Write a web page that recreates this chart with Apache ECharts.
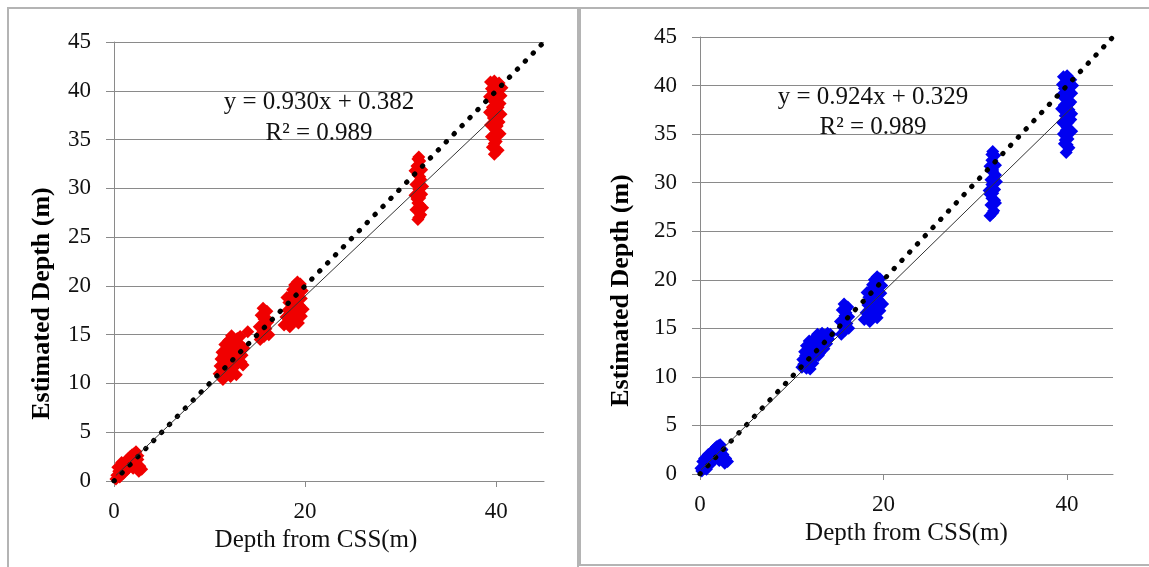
<!DOCTYPE html>
<html>
<head>
<meta charset="utf-8">
<script src="https://cdn.jsdelivr.net/npm/echarts@6/dist/echarts.min.js"></script>
<style>
html, body { margin: 0; padding: 0; background: #fff; overflow: hidden; }
.panel { position: absolute; border: 2px solid #b4b4b4; box-sizing: border-box; }
#panelLeft { left: 7px; top: 7px; width: 572px; height: 600px; }
#panelRight { left: 579px; top: 7px; width: 600px; height: 559px; }
#chart { position: absolute; left: 0; top: 0; width: 1149px; height: 567px; }
</style>
</head>
<body>
<div class="panel" id="panelLeft"></div>
<div class="panel" id="panelRight"></div>
<div id="chart"></div>
<script>
// x axis tick labels (both panels)
var xTickValues = [0, 20, 40]

// 1:1 reference line (dotted)
var oneToOne = [[0, 0], [45, 45]]

// fitted lines, end points
var redFit = [[0.2, 0.57], [40.6, 38.1]]
var blueFit = [[0.1, 0.42], [40.6, 37.8]]

var redEquation = ['y = 0.930x + 0.382', 'R² = 0.989']
var blueEquation = ['y = 0.924x + 0.329', 'R² = 0.989']

// left panel points (red)
var redPoints = [
  [0.3, 0.6], [0.5, 1.0], [0.4, 1.4], [0.7, 1.2], [0.9, 1.6], [1.1, 1.9], [1.3, 2.1], [1.5, 2.3],
  [1.7, 2.5], [1.9, 2.7], [2.1, 2.8], [2.3, 3.0], [2.5, 2.6], [0.6, 0.4], [1.0, 0.8], [1.3, 1.1],
  [1.6, 1.4], [1.9, 1.7], [2.2, 2.0], [2.5, 2.2], [2.7, 1.5], [2.9, 1.2], [2.6, 1.0], [0.2, 0.2],
  [0.8, 1.9], [2.0, 1.3], [1.2, 1.4], [1.8, 2.0], [0.9, 1.0], [2.2, 2.4],
  [11.0, 11.0], [11.1, 11.8], [11.2, 12.5], [11.3, 13.2], [11.5, 10.7], [11.6, 11.5], [11.7, 12.2],
  [11.9, 13.0], [12.0, 13.8], [12.1, 11.2], [12.2, 12.0], [12.4, 12.8], [12.5, 13.6], [12.6, 14.3],
  [12.7, 11.8], [12.9, 12.5], [13.0, 13.3], [13.1, 14.1], [13.2, 14.8], [12.3, 14.9], [13.4, 12.9],
  [13.6, 13.6], [13.5, 11.9], [11.4, 10.4], [12.8, 10.9], [14.0, 15.3],
  [11.4, 11.4], [11.8, 12.6], [12.3, 13.2], [12.8, 13.9], [12.6, 12.4], [13.2, 13.9], [12.0, 14.4],
  [11.6, 14.0], [13.3, 12.2], [12.2, 10.7], [11.5, 12.9], [12.9, 14.6],
  [15.3, 14.5], [15.5, 15.2], [15.6, 16.0], [15.8, 16.8], [16.0, 17.4], [15.7, 14.8], [15.9, 15.6],
  [16.1, 16.3], [15.4, 17.0], [15.6, 17.7], [16.2, 15.0], [15.2, 15.8], [15.8, 15.9], [15.7, 16.6],
  [17.8, 16.0], [18.0, 16.8], [18.2, 17.5], [18.3, 18.3], [18.5, 19.0], [18.7, 19.6], [18.9, 20.1],
  [19.2, 20.4], [19.5, 20.2], [19.7, 19.5], [19.6, 18.7], [19.4, 18.0], [19.2, 17.3], [19.0, 16.6],
  [18.6, 16.2], [18.4, 15.8], [18.8, 17.9], [19.1, 19.0], [19.8, 17.6], [18.1, 18.8],
  [18.6, 17.1], [19.0, 18.4], [19.4, 19.4], [18.3, 17.0], [19.6, 16.9], [18.6, 18.5], [19.3, 16.2],
  [31.8, 26.8], [32.1, 27.3], [31.6, 27.8], [32.0, 28.3], [31.7, 28.9], [32.2, 29.4], [31.9, 29.9],
  [31.6, 30.4], [32.1, 30.9], [31.8, 31.4], [32.2, 31.9], [31.7, 32.3], [32.0, 32.8], [31.9, 33.2],
  [32.3, 28.0], [31.5, 29.3], [32.3, 30.2], [31.5, 31.8],
  [31.9, 27.0], [32.0, 29.0], [31.9, 30.6], [32.0, 32.0], [31.8, 33.0], [31.8, 28.5], [32.0, 31.2],
  [39.4, 40.9], [39.8, 41.0], [40.3, 40.8], [40.6, 40.3], [39.5, 40.2], [40.0, 39.8], [40.5, 39.5],
  [39.3, 39.4], [39.8, 38.9], [40.4, 38.7], [39.6, 38.3], [40.1, 37.9], [39.7, 37.2], [40.3, 36.8],
  [39.4, 36.5], [39.9, 36.0], [40.4, 35.6], [39.5, 35.3], [40.0, 34.8], [39.6, 34.2], [40.2, 33.9],
  [39.8, 33.5], [40.5, 37.6], [39.3, 37.8],
  [40.0, 40.5], [39.9, 39.2], [40.0, 37.5], [39.9, 35.5], [40.0, 34.0], [40.2, 40.2], [39.7, 38.1],
  [40.1, 36.4], [39.7, 39.9], [40.2, 38.3], [39.8, 34.6]
]

// right panel points (blue)
var bluePoints = [
  [0.2, 0.3], [0.4, 0.8], [0.3, 1.3], [0.6, 1.1], [0.8, 1.5], [1.0, 1.9], [1.2, 2.1], [1.4, 2.4],
  [1.6, 2.6], [1.8, 2.8], [2.0, 2.9], [2.2, 3.0], [2.4, 2.5], [0.7, 0.5], [1.0, 0.9], [1.3, 1.2],
  [1.6, 1.5], [1.9, 1.8], [2.2, 2.1], [2.5, 2.0], [2.8, 1.6], [3.0, 1.3], [2.7, 1.1], [0.1, 0.6],
  [0.9, 2.0], [2.1, 1.4], [1.1, 1.3], [1.7, 2.0], [0.5, 1.6], [2.3, 2.6],
  [11.1, 11.0], [11.2, 11.8], [11.4, 12.6], [11.6, 13.2], [11.6, 10.9], [11.8, 11.6], [12.0, 12.3],
  [12.2, 13.0], [12.4, 13.7], [12.3, 11.4], [12.5, 12.1], [12.7, 12.9], [12.9, 13.6], [13.1, 14.2],
  [13.0, 12.4], [13.2, 13.0], [13.4, 13.7], [13.6, 14.3], [13.9, 14.5], [14.2, 14.4], [13.8, 13.4],
  [12.8, 14.4], [12.0, 10.8], [14.0, 13.9],
  [11.5, 12.2], [12.0, 12.9], [12.5, 13.3], [12.9, 12.2], [13.3, 14.5], [12.2, 11.8], [13.5, 12.9],
  [11.9, 13.7], [12.6, 14.1], [11.3, 11.3],
  [15.4, 14.4], [15.6, 15.1], [15.7, 15.9], [15.9, 16.6], [16.1, 17.2], [15.8, 14.8], [16.0, 15.5],
  [16.2, 16.2], [15.5, 16.9], [15.7, 17.5], [16.2, 15.0], [15.3, 15.7], [15.8, 16.3], [15.9, 17.0],
  [17.9, 15.9], [18.1, 16.6], [18.3, 17.4], [18.4, 18.2], [18.6, 18.9], [18.8, 19.5], [19.0, 20.0],
  [19.3, 20.3], [19.6, 20.1], [19.8, 19.4], [19.7, 18.6], [19.5, 17.9], [19.3, 17.2], [19.1, 16.5],
  [18.7, 16.1], [18.5, 15.7], [18.9, 17.8], [19.2, 18.9], [19.9, 17.5], [18.2, 18.7],
  [18.7, 17.1], [19.0, 18.3], [19.4, 19.3], [18.4, 16.9], [19.6, 16.8], [18.7, 18.4], [19.3, 16.1],
  [31.6, 26.6], [32.0, 27.1], [31.7, 27.7], [32.1, 28.2], [31.6, 28.8], [32.1, 29.3], [31.8, 29.8],
  [31.7, 30.3], [32.2, 30.8], [31.9, 31.3], [32.2, 31.8], [31.8, 32.3], [32.1, 32.8], [31.9, 33.2],
  [32.2, 27.9], [31.5, 29.2], [32.3, 30.1], [31.6, 31.7],
  [31.9, 26.9], [31.9, 28.9], [32.0, 30.5], [32.0, 31.9], [31.8, 32.9], [31.8, 28.4], [31.9, 31.1],
  [39.6, 40.9], [40.0, 41.0], [40.4, 40.6], [40.6, 40.0], [39.5, 40.1], [40.1, 39.6], [40.5, 39.2],
  [39.4, 39.0], [39.9, 38.6], [40.4, 38.3], [39.7, 37.9], [40.2, 37.5], [39.8, 36.9], [40.4, 36.5],
  [39.5, 36.2], [40.0, 35.7], [40.5, 35.3], [39.6, 35.0], [40.1, 34.5], [39.7, 34.0], [40.2, 33.6],
  [39.9, 33.1], [40.5, 37.1], [39.4, 37.6],
  [40.1, 40.3], [39.9, 39.1], [40.0, 37.3], [39.9, 35.4], [40.0, 33.9], [40.3, 39.9], [39.7, 38.0],
  [40.1, 36.2], [39.7, 39.7], [40.2, 38.1], [39.8, 34.4]
]

var serif = 'Liberation Serif'
var gridColor = '#8a8a8a'

function makeX (idx, gap, pad) {
  return {
    gridIndex: idx,
    type: 'value',
    min: 0,
    max: 45,
    interval: 20,
    name: 'Depth from CSS(m)',
    nameLocation: 'middle',
    nameGap: gap,
    nameTextStyle: { fontFamily: serif, fontSize: 25, color: '#111', padding: pad },
    axisLine: { show: true, lineStyle: { color: gridColor, width: 1 } },
    axisTick: { show: true, length: 6, customValues: xTickValues, lineStyle: { color: gridColor } },
    axisLabel: { customValues: xTickValues, fontFamily: serif, fontSize: 23, color: '#111', margin: 19 },
    splitLine: { show: false }
  }
}

function makeY (idx, gap, pad) {
  return {
    gridIndex: idx,
    type: 'value',
    min: 0,
    max: 45,
    interval: 5,
    name: 'Estimated Depth (m)',
    nameLocation: 'middle',
    nameGap: gap,
    nameTextStyle: { fontFamily: serif, fontSize: 26, fontWeight: 'bold', color: '#000', padding: pad },
    axisLine: { show: true, lineStyle: { color: gridColor, width: 1 } },
    axisTick: { show: true, length: 8, lineStyle: { color: gridColor } },
    axisLabel: { fontFamily: serif, fontSize: 23, color: '#111', margin: 23 },
    splitLine: { show: true, lineStyle: { color: gridColor, width: 1 } }
  }
}

function eqText (lines, cx, y1, y2) {
  return [
    { type: 'text', x: cx, y: y1, z: 10, style: { text: lines[0], fill: '#111', font: '25px ' + serif, align: 'center', verticalAlign: 'middle' } },
    { type: 'text', x: cx, y: y2, z: 10, style: { text: lines[1], fill: '#111', font: '25px ' + serif, align: 'center', verticalAlign: 'middle' } }
  ]
}

function scatter (idx, data, color) {
  return {
    type: 'scatter',
    xAxisIndex: idx,
    yAxisIndex: idx,
    data: data,
    symbol: 'diamond',
    symbolSize: 13,
    itemStyle: { color: color, opacity: 1 },
    z: 2
  }
}

function dotted (idx) {
  return {
    type: 'line',
    xAxisIndex: idx,
    yAxisIndex: idx,
    data: oneToOne,
    showSymbol: false,
    symbol: 'none',
    lineStyle: { color: '#000', width: 5, type: [0.5, 10.8], cap: 'round' },
    z: 4
  }
}

function fitLine (idx, data) {
  return {
    type: 'line',
    xAxisIndex: idx,
    yAxisIndex: idx,
    data: data,
    showSymbol: false,
    symbol: 'none',
    lineStyle: { color: '#333', width: 1 },
    z: 5
  }
}

var chart = echarts.init(document.getElementById('chart'))
chart.setOption({
  animation: false,
  backgroundColor: 'transparent',
  grid: [
    { left: 114, top: 42, width: 430, height: 439 },
    { left: 700, top: 37, width: 413, height: 437 }
  ],
  xAxis: [makeX(0, 45, [0, 26, 0, 0]), makeX(1, 45, 0)],
  yAxis: [makeY(0, 59, [0, 84, 0, 0]), makeY(1, 66, [0, 70, 0, 0])],
  graphic: eqText(redEquation, 319, 102, 133).concat(eqText(blueEquation, 873, 97, 127)),
  series: [
    scatter(0, redPoints, '#f00000'),
    scatter(1, bluePoints, '#0000f0'),
    dotted(0),
    dotted(1),
    fitLine(0, redFit),
    fitLine(1, blueFit)
  ]
})
</script>
</body>
</html>
